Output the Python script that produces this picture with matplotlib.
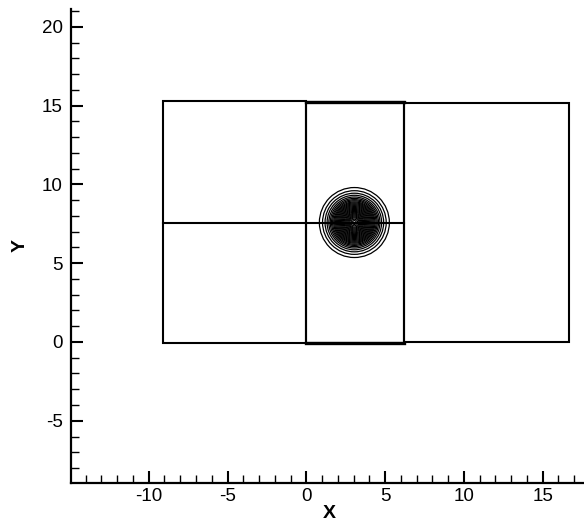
"""Mesh blocks with vortex contours"""
import matplotlib
matplotlib.use("Agg")
import matplotlib.pyplot as plt
from matplotlib.patches import Rectangle, Circle
from matplotlib.ticker import MultipleLocator

plt.rcParams['font.family'] = ['Liberation Sans', 'DejaVu Sans']
plt.rcParams['axes.unicode_minus'] = False

# block extents (x0, x1, y0, y1)
block_x0 = [-9.07, 0.0, 6.2]
block_x1 = [0.0, 6.2, 16.69]
block_y0 = [-0.09, -0.07, -0.03]
block_y1 = [15.27, 15.25, 15.15]

# horizontal split line through the first two blocks
split_y = 7.56
split_x = [-9.07, 6.2]

# vortex contour rings
vortex_x = 3.05
vortex_y = 7.58
ring_radii = [2.22, 2.02, 1.86, 1.73, 1.62, 1.53, 1.45, 1.38, 1.31, 1.25,
              1.19, 1.13, 1.07, 1.01, 0.95, 0.89, 0.83, 0.77, 0.71, 0.65,
              0.59, 0.53, 0.47, 0.41, 0.35, 0.29, 0.21, 0.12]

xticks = [-10, -5, 0, 5, 10, 15]
yticks = [-5, 0, 5, 10, 15, 20]

fig = plt.figure(figsize=(5.84, 5.27), dpi=100)
ax = fig.add_axes([71 / 584, 44.3 / 527, 513 / 584, 473.7 / 527])
ax.set_xlim(-14.93, 17.62)
ax.set_ylim(-8.93, 21.13)

for x0, x1, y0, y1 in zip(block_x0, block_x1, block_y0, block_y1):
    ax.add_patch(Rectangle((x0, y0), x1 - x0, y1 - y0, fill=False,
                           edgecolor='black', linewidth=1.5))
# the middle block shares its top and bottom with a second grid level
ax.plot(block_x0[1:2] + block_x1[1:2], [block_y1[1]] * 2, color='black', linewidth=2.4)
ax.plot(block_x0[1:2] + block_x1[1:2], [block_y0[1]] * 2, color='black', linewidth=2.4)
ax.plot(split_x, [split_y, split_y], color='black', linewidth=1.5)

for r in ring_radii:
    ax.add_patch(Circle((vortex_x, vortex_y), r, fill=False,
                        edgecolor='black', linewidth=0.9))

for side in ['top', 'right']:
    ax.spines[side].set_visible(False)
for side in ['left', 'bottom']:
    ax.spines[side].set_linewidth(1.6)

ax.set_xticks(xticks)
ax.set_yticks(yticks)
ax.xaxis.set_minor_locator(MultipleLocator(1))
ax.yaxis.set_minor_locator(MultipleLocator(1))
ax.tick_params(which='major', direction='in', length=8.6, width=1.5,
               labelsize=13.5, pad=4)
ax.tick_params(which='minor', direction='in', length=5.5, width=1.0)
ax.tick_params(axis='y', which='major', pad=6)

ax.text(0.503, -0.066, 'X', transform=ax.transAxes, ha='center', va='center',
        fontsize=14, fontweight='bold')
ax.text(-0.10, 0.5, 'Y', transform=ax.transAxes, ha='center', va='center',
        fontsize=14, fontweight='bold', rotation=90)

fig.savefig('out.png', dpi=100)
